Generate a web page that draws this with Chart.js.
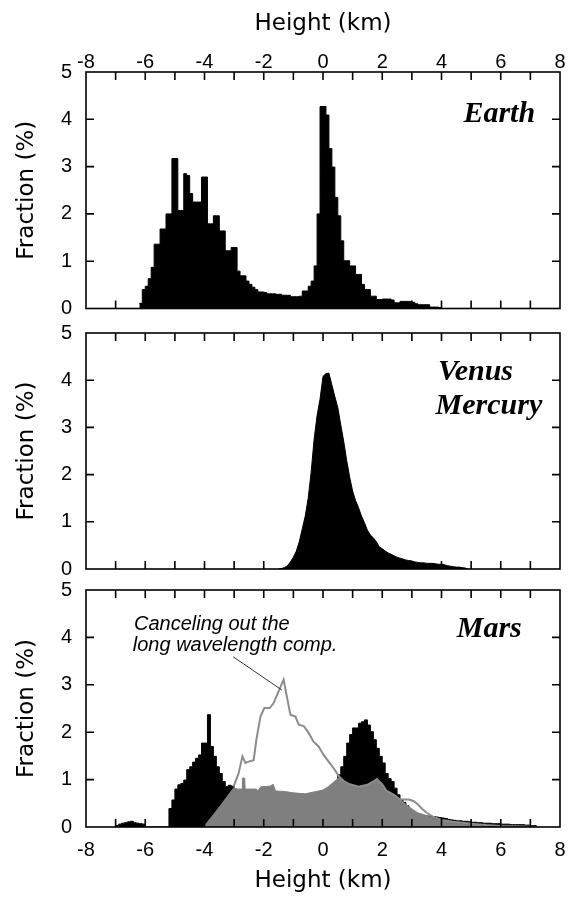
<!DOCTYPE html>
<html>
<head>
<meta charset="utf-8">
<title>Hypsometry of terrestrial planets</title>
<script src="https://cdn.jsdelivr.net/npm/chart.js@4.4.0/dist/chart.umd.min.js"></script>
<style>
    body { margin: 0; background: #fff; }
    .wrap { position: relative; width: 570px; height: 900px; }
    .wrap canvas { position: absolute; left: 0; }
</style>
</head>
<body>
<div class="wrap">
    <canvas id="earthChart" width="570" height="320" style="top:0px"></canvas>
    <canvas id="venusChart" width="570" height="262" style="top:320px"></canvas>
    <canvas id="marsChart" width="570" height="318" style="top:582px"></canvas>
</div>
<script>
// Tick marks (km on x, % on y)
const xTickMarks = [-7, -6, -5, -4, -3, -2, -1, 0, 1, 2, 3, 4, 5, 6, 7];
const yTickMarks = [1, 2, 3, 4];
const binWidth = 0.1;

// Earth histogram, 0.1 km bins starting at -6.2 km
const earthStart = -6.2;
const earthValues = [
    0.11, 0.40, 0.47, 0.63, 0.87, 1.36, 1.36, 1.68, 1.68, 2.00,
    2.00, 3.17, 3.17, 2.07, 2.07, 2.85, 2.81, 2.43, 2.25, 2.25,
    2.25, 2.78, 2.78, 1.79, 1.79, 1.96, 1.96, 1.64, 1.64, 1.22,
    1.22, 1.29, 1.29, 0.79, 0.69, 0.69, 0.58, 0.51, 0.45, 0.40,
    0.35, 0.35, 0.34, 0.31, 0.31, 0.31, 0.30, 0.30, 0.28, 0.28,
    0.28, 0.25, 0.25, 0.25, 0.26, 0.37, 0.37, 0.47, 0.58, 0.90,
    2.00, 4.27, 4.27, 4.09, 3.38, 2.99, 2.35, 1.96, 1.43, 1.01,
    1.01, 0.90, 0.90, 0.72, 0.72, 0.51, 0.40, 0.40, 0.26, 0.26,
    0.19, 0.19, 0.20, 0.20, 0.20, 0.18, 0.12, 0.12, 0.15, 0.15,
    0.15, 0.15, 0.13, 0.10, 0.08, 0.08, 0.08, 0.08, 0.03, 0.03,
    0.03, 0.02
];

// Venus / Mercury, sampled every 0.1 km from -1.5 km
const venusStart = -1.5;
const venusValues = [
    0.00, 0.01, 0.03, 0.07, 0.15, 0.25, 0.38, 0.58, 0.85, 1.12,
    1.50, 2.05, 2.75, 3.25, 3.60, 4.08, 4.14, 4.15, 3.90, 3.65,
    3.42, 3.05, 2.70, 2.30, 1.95, 1.65, 1.45, 1.30, 1.12, 0.98,
    0.82, 0.72, 0.66, 0.58, 0.47, 0.43, 0.38, 0.34, 0.31, 0.28,
    0.25, 0.23, 0.21, 0.19, 0.18, 0.17, 0.15, 0.14, 0.13, 0.13,
    0.12, 0.12, 0.12, 0.11, 0.10, 0.10, 0.09, 0.07, 0.06, 0.05,
    0.04, 0.04, 0.03, 0.02, 0.00
];

// Mars histogram (black), 0.1 km bins starting at -7.0 km
const marsStart = -7.0;
const marsValues = [
    0.03, 0.06, 0.08, 0.09, 0.11, 0.12, 0.09, 0.08, 0.07, 0.06,
    0.00, 0.00, 0.00, 0.00, 0.00, 0.00, 0.00, 0.00, 0.39, 0.57,
    0.80, 0.89, 0.92, 0.99, 1.21, 1.27, 1.37, 1.45, 1.52, 1.77,
    1.77, 2.37, 1.70, 1.49, 1.27, 1.13, 0.96, 0.85, 0.88, 0.86,
    0.80, 0.70, 0.66, 0.62, 0.60, 0.58, 0.56, 0.55, 0.54, 0.53,
    0.52, 0.52, 0.51, 0.51, 0.52, 0.53, 0.54, 0.55, 0.56, 0.57,
    0.58, 0.58, 0.59, 0.60, 0.61, 0.63, 0.66, 0.69, 0.72, 0.76,
    0.77, 0.80, 0.84, 0.90, 0.95, 1.10, 1.27, 1.49, 1.77, 1.95,
    2.09, 2.09, 2.19, 2.22, 2.26, 2.15, 2.01, 1.84, 1.66, 1.49,
    1.35, 1.13, 1.02, 0.96, 0.82, 0.68, 0.57, 0.52, 0.45, 0.36,
    0.30, 0.27, 0.25, 0.24, 0.24, 0.23, 0.23, 0.22, 0.21, 0.20,
    0.19, 0.18, 0.16, 0.15, 0.14, 0.13, 0.13, 0.12, 0.12, 0.11,
    0.10, 0.10, 0.09, 0.09, 0.08, 0.08, 0.08, 0.07, 0.07, 0.07,
    0.06, 0.06, 0.06, 0.05, 0.05, 0.05, 0.05, 0.05, 0.04, 0.04,
    0.03, 0.03
];

// Mars, gray filled distribution
const marsGrayHeights = [
    -4.03, -3.5, -3.0, -2.95, -2.73, -2.72, -2.64, -2.63, -2.25, -2.2,
    -2.1, -1.8, -1.68, -1.6, -1.3, -1.0, -0.6, -0.3, 0.0, 0.2,
    0.4, 0.55, 0.7, 0.9, 1.2, 1.5, 1.7, 1.82, 2.0, 2.15,
    2.4, 2.6, 2.8, 3.0, 3.2, 3.4, 3.6, 3.8, 4.1, 4.4,
    4.9, 5.3, 5.6
];
const marsGrayValues = [
    0.00, 0.42, 0.84, 0.80, 0.80, 1.03, 1.03, 0.80, 0.80, 0.76,
    0.85, 0.86, 0.90, 0.76, 0.75, 0.72, 0.70, 0.74, 0.78, 0.86,
    0.97, 1.04, 0.97, 0.90, 0.85, 0.89, 0.96, 1.01, 0.90, 0.76,
    0.68, 0.58, 0.48, 0.38, 0.30, 0.26, 0.22, 0.17, 0.13, 0.09,
    0.05, 0.03, 0.00
];

// Mars, long wavelength component cancelled (gray outline)
const cancelHeights = [
    -3.02, -2.85, -2.72, -2.62, -2.51, -2.34, -2.25, -2.11, -1.98, -1.80,
    -1.67, -1.50, -1.33, -1.22, -1.10, -0.93, -0.82, -0.65, -0.48, -0.32,
    -0.15, 0.02, 0.19, 0.36, 0.55, 0.7, 0.9, 1.2, 1.5, 1.7,
    1.82, 2.0, 2.15, 2.4, 2.6, 2.9, 3.05, 3.2, 3.35, 3.5,
    3.7, 4.0, 4.4, 5.0, 5.5, 6.0, 6.8, 7.2
];
const cancelValues = [
    0.85, 1.13, 1.49, 1.35, 1.38, 1.41, 1.84, 2.33, 2.51, 2.51,
    2.61, 2.86, 3.11, 2.75, 2.37, 2.33, 2.16, 2.13, 1.98, 1.80,
    1.70, 1.52, 1.38, 1.24, 1.06, 0.97, 0.90, 0.85, 0.89, 0.96,
    1.01, 0.90, 0.76, 0.68, 0.58, 0.58, 0.55, 0.48, 0.38, 0.30,
    0.22, 0.15, 0.11, 0.07, 0.04, 0.02, 0.01, 0.00
];

const tickFont = { family: "'Liberation Sans', Arial, sans-serif", size: 20, lineHeight: 1 };
const titleFont = { family: "'DejaVu Sans', sans-serif", size: 23 };
const labelFont = "bold italic 30px 'Liberation Serif', 'Times New Roman', serif";
const noteFont = "italic 20px 'Liberation Sans', Arial, sans-serif";

/**
 * Histogram bins -> points for a stepped line
 */
function binPoints(start, values) {
    const pts = values.map((v, i) => ({ x: +(start + i * binWidth).toFixed(2), y: v }));
    pts.push({ x: +(start + values.length * binWidth).toFixed(2), y: 0 });
    return pts;
}

function pairPoints(xs, ys) {
    return xs.map((x, i) => ({ x: x, y: ys[i] }));
}

/**
 * Frame with inward ticks on all four sides, plus text labels in data coords
 */
function makeFrame(labels, leader) {
    return {
        id: 'frame',
        afterDraw(chart) {
            const { ctx, chartArea: a, scales: { x, y } } = chart;
            const len = 8;
            ctx.save();
            ctx.strokeStyle = '#000';
            ctx.lineWidth = 1.6;
            ctx.strokeRect(a.left, a.top, a.right - a.left, a.bottom - a.top);
            ctx.beginPath();
            xTickMarks.forEach(v => {
                const px = x.getPixelForValue(v);
                ctx.moveTo(px, a.top);
                ctx.lineTo(px, a.top + len);
                ctx.moveTo(px, a.bottom);
                ctx.lineTo(px, a.bottom - len);
            });
            yTickMarks.forEach(v => {
                const py = y.getPixelForValue(v);
                ctx.moveTo(a.left, py);
                ctx.lineTo(a.left + len, py);
                ctx.moveTo(a.right, py);
                ctx.lineTo(a.right - len, py);
            });
            ctx.stroke();

            if (leader) {
                ctx.lineWidth = 1;
                ctx.strokeStyle = '#333';
                ctx.beginPath();
                ctx.moveTo(x.getPixelForValue(leader[0]), y.getPixelForValue(leader[1]));
                ctx.lineTo(x.getPixelForValue(leader[2]), y.getPixelForValue(leader[3]));
                ctx.stroke();
            }

            ctx.fillStyle = '#000';
            ctx.textBaseline = 'alphabetic';
            labels.forEach(l => {
                ctx.font = l.font;
                ctx.textAlign = l.align;
                ctx.fillText(l.text, x.getPixelForValue(l.x), y.getPixelForValue(l.y));
            });
            ctx.restore();
        }
    };
}

function yAxis() {
    return {
        type: 'linear',
        min: 0,
        max: 5,
        grid: { display: false, drawTicks: false },
        border: { display: false },
        ticks: { stepSize: 1, padding: 14, color: '#000', font: tickFont },
        title: {
            display: true,
            text: 'Fraction (%)',
            color: '#000',
            font: titleFont,
            padding: { top: 13, bottom: 0 }
        },
        afterFit: s => {
            s.width = 86;
            s.paddingTop = 0;
            s.paddingBottom = 0;
        }
    };
}

function xAxis(position, height, tickPad, titlePad) {
    return {
        type: 'linear',
        position: position,
        min: -8,
        max: 8,
        grid: { display: false, drawTicks: false },
        border: { display: false },
        ticks: { stepSize: 2, padding: tickPad, color: '#000', font: tickFont, maxRotation: 0, autoSkip: false },
        title: { display: true, text: 'Height (km)', color: '#000', font: titleFont, padding: titlePad },
        afterFit: s => {
            s.height = height;
            s.paddingLeft = 0;
            s.paddingRight = 0;
        }
    };
}

function baseOptions(padding, xScale) {
    return {
        responsive: false,
        animation: false,
        devicePixelRatio: 1,
        events: [],
        layout: { padding: padding },
        plugins: { legend: { display: false }, tooltip: { enabled: false } },
        elements: { point: { radius: 0 } },
        scales: { x: xScale, y: yAxis() }
    };
}

// Earth panel
new Chart(document.getElementById('earthChart').getContext('2d'), {
    type: 'line',
    data: {
        datasets: [{
            data: binPoints(earthStart, earthValues),
            stepped: true,
            fill: 'origin',
            backgroundColor: '#000',
            borderColor: '#000',
            borderWidth: 1
        }]
    },
    options: baseOptions({ top: 0, right: 10, bottom: 11.5, left: 0 },
        xAxis('top', 72, 0, { top: 10, bottom: 0 })),
    plugins: [makeFrame([
        { text: 'Earth', x: 7.16, y: 3.94, align: 'right', font: labelFont }
    ])]
});

// Venus / Mercury panel
const venusX = xAxis('bottom', 0, 0, 0);
venusX.display = false;
new Chart(document.getElementById('venusChart').getContext('2d'), {
    type: 'line',
    data: {
        datasets: [{
            data: venusValues.map((v, i) => ({ x: +(venusStart + i * binWidth).toFixed(2), y: v })),
            fill: 'origin',
            backgroundColor: '#000',
            borderColor: '#000',
            borderWidth: 1
        }]
    },
    options: baseOptions({ top: 13, right: 10, bottom: 13, left: 0 }, venusX),
    plugins: [makeFrame([
        { text: 'Venus', x: 3.88, y: 4.0, align: 'left', font: labelFont },
        { text: 'Mercury', x: 3.80, y: 3.28, align: 'left', font: labelFont }
    ])]
});

// Mars panel
new Chart(document.getElementById('marsChart').getContext('2d'), {
    type: 'line',
    data: {
        datasets: [{
            data: pairPoints(cancelHeights, cancelValues),
            fill: false,
            borderColor: '#8c8c8c',
            borderWidth: 2,
            order: 1
        }, {
            data: pairPoints(marsGrayHeights, marsGrayValues),
            fill: 'origin',
            backgroundColor: '#7f7f7f',
            borderColor: '#7f7f7f',
            borderWidth: 1,
            order: 2
        }, {
            data: binPoints(marsStart, marsValues),
            stepped: true,
            fill: 'origin',
            backgroundColor: '#000',
            borderColor: '#000',
            borderWidth: 1,
            order: 3
        }]
    },
    options: baseOptions({ top: 8, right: 10, bottom: 0, left: 0 },
        xAxis('bottom', 73, 13, { top: 0, bottom: 5 })),
    plugins: [makeFrame([
        { text: 'Mars', x: 6.71, y: 4.0, align: 'right', font: labelFont },
        { text: 'Canceling out the', x: -6.38, y: 4.16, align: 'left', font: noteFont },
        { text: 'long wavelength comp.', x: -6.42, y: 3.72, align: 'left', font: noteFont }
    ], [-3.03, 3.59, -1.39, 2.89])]
});
</script>
</body>
</html>
